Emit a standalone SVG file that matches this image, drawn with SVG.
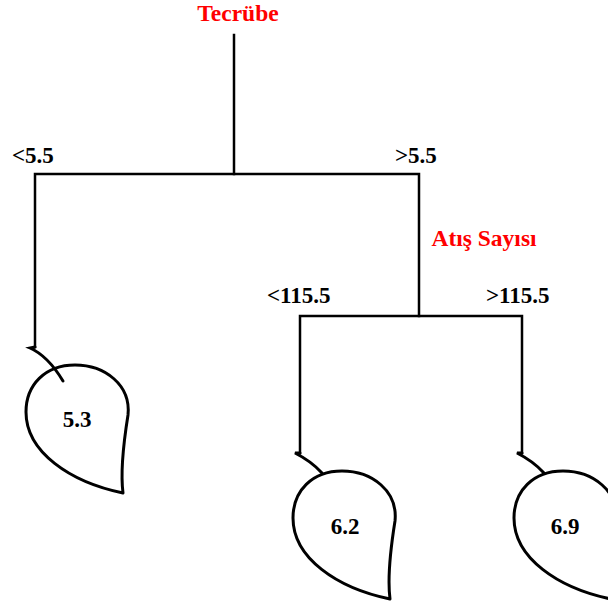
<svg xmlns="http://www.w3.org/2000/svg" width="608" height="601" viewBox="0 0 608 601">
  <defs>
    <style>
      .edge { fill: none; stroke: #000; stroke-width: 2.5; stroke-linecap: square; }
      .leaf { fill: #fff; stroke: #000; stroke-width: 3; stroke-linejoin: round; }
      .stem { fill: none; stroke: #000; stroke-width: 3; stroke-linecap: round; }
      .split { font-family: "Liberation Serif", "Times New Roman", serif; font-weight: bold; font-size: 23.5px; fill: #ff0000; text-anchor: middle; }
      .cond { font-family: "Liberation Serif", "Times New Roman", serif; font-weight: bold; font-size: 23px; fill: #000; }
      .value { font-family: "Liberation Serif", "Times New Roman", serif; font-weight: bold; font-size: 23px; fill: #000; text-anchor: middle; }
    </style>
    <!-- leaf outline with its point at lower right -->
    <path id="leafShape" d="M123,493 C120,470 124,440 128,415 C131,385 105,365 75,365 C45,365 26,385 26,412 C26,452 70,482 123,493 Z"/>
  </defs>
  <rect width="608" height="601" fill="#fff"/>

  <g id="connectors">
    <path class="edge" d="M234,35 V174"/>
    <path class="edge" d="M35,347 V174 H419 V316"/>
    <path class="edge" d="M300,453 V316 H522 V453"/>
  </g>

  <g id="root">
    <text class="split" x="238" y="21">Tecrübe</text>
    <text class="cond" x="12" y="163">&lt;5.5</text>
    <text class="cond" x="395" y="163">&gt;5.5</text>
  </g>

  <g id="atis-sayisi">
    <text class="split" x="484" y="246">Atış Sayısı</text>
    <text class="cond" x="267" y="303">&lt;115.5</text>
    <text class="cond" x="486" y="303">&gt;115.5</text>
  </g>

  <g id="leaf-5-3">
    <use href="#leafShape" class="leaf"/>
    <path class="stem" d="M35,347 L30,348 Q48,356 63,381"/>
    <text class="value" x="77" y="427">5.3</text>
  </g>

  <g id="leaf-6-2" transform="translate(267,106)">
    <use href="#leafShape" class="leaf"/>
    <path class="stem" d="M33,347 L28,347 Q44,355 55,367"/>
    <text class="value" x="78" y="428">6.2</text>
  </g>

  <g id="leaf-6-9" transform="translate(488,106)">
    <use href="#leafShape" class="leaf"/>
    <path class="stem" d="M34,347 L29,347 Q45,355 56,367"/>
    <text class="value" x="77" y="428">6.9</text>
  </g>
</svg>
